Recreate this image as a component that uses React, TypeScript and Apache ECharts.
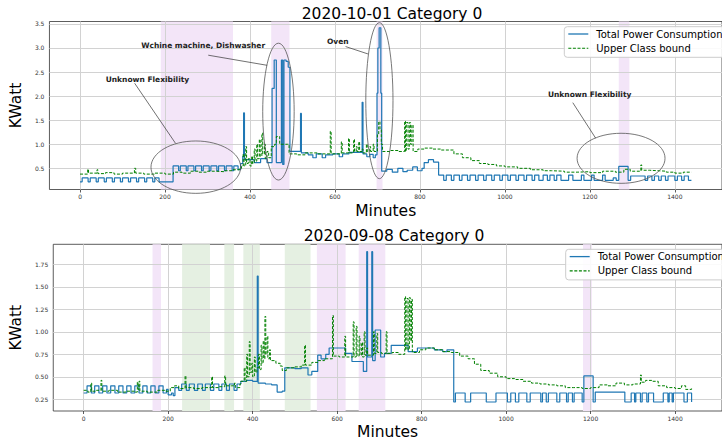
import React, { useEffect, useRef } from "react";
import * as echarts from "echarts";

// ---------- data ----------
const X_TICKS = [0, 200, 400, 600, 800, 1000, 1200, 1400];
const TOP_Y_TICKS = [0.5, 1.0, 1.5, 2.0, 2.5, 3.0, 3.5];
const BOT_Y_TICKS = [0.25, 0.5, 0.75, 1.0, 1.25, 1.5, 1.75];

const TITLES = ["2020-10-01 Category 0", "2020-09-08 Category 0"];
const SERIES_NAMES = ["Total Power Consumption", "Upper Class bound"];

// [start minute, kW] breakpoints (value held until next breakpoint)
const TOP_TOTAL: [number, number][] = [
  [0, 0.22], [5, 0.3], [19, 0.22], [24, 0.3], [38, 0.22], [43, 0.3], [57, 0.22], [62, 0.3],
  [76, 0.22], [81, 0.3], [95, 0.22], [100, 0.3], [114, 0.22], [119, 0.3], [133, 0.22], [138, 0.3],
  [152, 0.22], [157, 0.3], [171, 0.22], [176, 0.3], [186, 0.22], [219, 0.55], [232, 0.45], [236, 0.55],
  [250, 0.45], [254, 0.55], [268, 0.45], [272, 0.55], [286, 0.45], [290, 0.55], [304, 0.45], [308, 0.55],
  [322, 0.45], [326, 0.55], [340, 0.45], [344, 0.55], [358, 0.45], [362, 0.55], [372, 0.47], [378, 0.6],
  [383, 0.75], [385, 1.65], [387, 0.68], [410, 0.62], [425, 0.7], [440, 0.62], [452, 2.16], [457, 2.75],
  [462, 0.62], [474, 2.75], [477, 0.58], [480, 2.75], [485, 2.72], [490, 2.6], [494, 0.85], [519, 1.64],
  [521, 0.82], [537, 0.78], [548, 0.72], [556, 0.8], [570, 0.72], [578, 0.78], [595, 0.8], [610, 0.74],
  [618, 0.8], [633, 0.83], [664, 1.87], [666, 0.8], [675, 0.74], [682, 0.79], [690, 0.72], [695, 0.78],
  [699, 2.06], [701, 3.0], [704, 3.42], [708, 2.06], [710, 0.44], [722, 0.48], [735, 0.42], [748, 0.5],
  [760, 0.43], [770, 0.46], [783, 0.53], [794, 0.45], [805, 0.5], [810, 0.62], [820, 0.68], [832, 0.63],
  [844, 0.36], [856, 0.25], [862, 0.36], [874, 0.25], [880, 0.36], [893, 0.25], [899, 0.36], [912, 0.25],
  [918, 0.36], [931, 0.25], [937, 0.36], [950, 0.25], [956, 0.36], [969, 0.25], [975, 0.36], [988, 0.25],
  [994, 0.36], [1007, 0.25], [1013, 0.36], [1026, 0.25], [1032, 0.36], [1045, 0.25], [1051, 0.36],
  [1064, 0.25], [1070, 0.36], [1080, 0.25], [1090, 0.36], [1100, 0.25], [1106, 0.36], [1116, 0.25],
  [1122, 0.36], [1132, 0.25], [1150, 0.36], [1160, 0.25], [1180, 0.36], [1186, 0.25], [1204, 0.36],
  [1210, 0.25], [1230, 0.36], [1236, 0.25], [1255, 0.3], [1262, 0.25], [1268, 0.54], [1290, 0.25],
  [1296, 0.34], [1330, 0.25], [1336, 0.34], [1346, 0.25], [1352, 0.34], [1362, 0.25], [1368, 0.34],
  [1378, 0.25], [1384, 0.34], [1400, 0.25], [1406, 0.34], [1416, 0.25], [1422, 0.34], [1432, 0.25],
  [1439, 0.25],
];

const TOP_BOUND: [number, number][] = [
  [0, 0.38], [18, 0.48], [20, 0.4], [40, 0.47], [42, 0.39], [60, 0.41], [80, 0.38], [100, 0.4],
  [128, 0.5], [131, 0.4], [150, 0.38], [175, 0.4], [200, 0.38], [220, 0.42], [240, 0.4], [260, 0.44],
  [280, 0.42], [300, 0.44], [320, 0.43], [340, 0.45], [360, 0.47], [375, 0.5], [380, 0.55], [384, 0.8],
  [386, 0.55], [390, 0.95], [392, 0.6], [396, 0.7], [400, 0.55], [404, 0.75], [406, 0.6], [410, 0.9],
  [412, 0.65], [416, 1.0], [418, 0.7], [422, 1.1], [424, 0.75], [428, 1.23], [430, 0.8], [434, 1.0],
  [436, 0.7], [440, 0.85], [444, 0.72], [450, 0.95], [458, 1.0], [462, 1.16], [470, 1.0], [488, 1.0],
  [492, 0.8], [510, 0.78], [530, 0.82], [560, 0.8], [589, 1.27], [591, 0.8], [615, 1.05], [617, 0.82],
  [632, 1.12], [634, 0.82], [644, 1.1], [646, 0.85], [650, 0.95], [652, 0.85], [656, 1.05], [658, 0.85],
  [664, 0.9], [666, 0.82], [674, 1.0], [676, 0.85], [682, 0.95], [684, 0.85], [690, 1.0], [692, 0.85],
  [700, 1.2], [703, 1.47], [706, 1.3], [709, 1.0], [712, 0.85], [730, 0.87], [750, 0.85], [764, 1.48],
  [766, 0.85], [768, 1.45], [772, 0.9], [775, 1.45], [778, 1.0], [781, 1.4], [784, 0.85], [795, 0.9],
  [810, 0.92], [830, 0.9], [850, 0.88], [880, 0.8], [900, 0.72], [920, 0.66], [940, 0.6], [960, 0.58],
  [980, 0.55], [1000, 0.53], [1030, 0.5], [1060, 0.47], [1090, 0.45], [1110, 0.44], [1140, 0.42],
  [1170, 0.43], [1200, 0.41], [1230, 0.44], [1260, 0.42], [1280, 0.48], [1295, 0.44], [1320, 0.57],
  [1322, 0.46], [1340, 0.45], [1360, 0.44], [1380, 0.42], [1400, 0.4], [1420, 0.42], [1439, 0.42],
];

const BOT_TOTAL: [number, number][] = [
  [0, 0.32], [8, 0.4], [18, 0.32], [26, 0.4], [36, 0.32], [45, 0.4], [55, 0.32], [64, 0.4], [74, 0.32],
  [83, 0.4], [93, 0.32], [102, 0.4], [112, 0.32], [121, 0.4], [131, 0.32], [140, 0.4], [150, 0.32],
  [159, 0.4], [169, 0.32], [178, 0.4], [188, 0.32], [196, 0.36], [200, 0.3], [208, 0.32], [212, 0.29],
  [216, 0.38], [225, 0.35], [232, 0.42], [243, 0.35], [250, 0.42], [262, 0.35], [270, 0.42], [281, 0.35],
  [288, 0.42], [300, 0.35], [308, 0.42], [320, 0.35], [327, 0.42], [338, 0.35], [345, 0.42], [356, 0.35],
  [363, 0.42], [372, 0.45], [385, 0.46], [400, 0.45], [411, 1.62], [413, 0.43], [430, 0.42], [445, 0.41],
  [458, 0.33], [470, 0.34], [476, 0.6], [500, 0.59], [515, 0.6], [531, 0.52], [540, 0.56], [554, 0.74],
  [562, 0.7], [573, 0.75], [581, 0.82], [620, 0.76], [635, 0.67], [662, 0.56], [670, 1.89], [672, 0.72],
  [682, 1.89], [684, 0.68], [690, 1.02], [703, 0.72], [712, 0.76], [728, 0.85], [768, 0.78], [790, 0.82],
  [830, 0.8], [850, 0.78], [860, 0.8], [876, 0.22], [880, 0.32], [903, 0.22], [916, 0.32], [953, 0.22],
  [976, 0.32], [1003, 0.22], [1011, 0.32], [1022, 0.22], [1030, 0.32], [1049, 0.22], [1057, 0.32],
  [1082, 0.22], [1086, 0.32], [1095, 0.22], [1100, 0.32], [1120, 0.22], [1127, 0.32], [1143, 0.22],
  [1147, 0.32], [1157, 0.22], [1161, 0.32], [1180, 0.22], [1184, 0.51], [1206, 0.22], [1211, 0.33],
  [1281, 0.22], [1296, 0.32], [1304, 0.22], [1307, 0.32], [1318, 0.22], [1322, 0.32], [1333, 0.22],
  [1337, 0.32], [1349, 0.22], [1372, 0.32], [1383, 0.22], [1386, 0.32], [1393, 0.22], [1396, 0.32],
  [1421, 0.22], [1429, 0.32], [1439, 0.22],
];

const BOT_BOUND: [number, number][] = [
  [0, 0.35], [10, 0.33], [17, 0.43], [19, 0.34], [30, 0.35], [41, 0.46], [43, 0.34], [60, 0.35],
  [80, 0.33], [100, 0.34], [120, 0.33], [127, 0.44], [129, 0.36], [131, 0.45], [133, 0.34], [150, 0.33],
  [175, 0.35], [195, 0.34], [205, 0.38], [215, 0.4], [225, 0.37], [240, 0.51], [242, 0.38], [260, 0.37],
  [280, 0.38], [303, 0.5], [305, 0.38], [320, 0.39], [334, 0.51], [336, 0.4], [350, 0.4], [357, 0.43],
  [359, 0.38], [370, 0.42], [372, 0.45], [380, 0.6], [382, 0.45], [386, 0.75], [388, 0.5], [392, 0.89],
  [394, 0.55], [398, 0.65], [400, 0.5], [404, 0.72], [406, 0.55], [410, 0.6], [414, 0.75], [416, 0.58],
  [420, 0.85], [422, 0.65], [425, 0.9], [427, 0.7], [429, 1.17], [431, 0.75], [434, 0.95], [436, 0.7],
  [440, 0.8], [442, 0.68], [455, 0.65], [465, 0.62], [470, 0.57], [480, 0.6], [500, 0.61], [515, 0.63],
  [523, 0.85], [525, 0.63], [540, 0.66], [555, 0.68], [570, 0.7], [589, 1.18], [591, 0.73], [605, 0.72],
  [618, 0.95], [620, 0.72], [638, 1.11], [640, 0.72], [645, 1.06], [647, 0.73], [652, 0.95], [654, 0.74],
  [658, 0.88], [660, 0.72], [664, 1.0], [666, 0.74], [670, 0.82], [672, 0.74], [686, 1.0], [688, 0.76],
  [694, 0.98], [696, 0.77], [705, 0.76], [716, 1.0], [718, 0.76], [730, 0.77], [745, 0.75], [760, 1.39],
  [762, 0.8], [765, 1.37], [768, 0.8], [771, 1.38], [773, 0.9], [776, 1.36], [778, 0.77], [795, 0.8],
  [810, 0.82], [830, 0.8], [850, 0.78], [870, 0.77], [890, 0.73], [910, 0.7], [925, 0.64], [940, 0.57],
  [960, 0.54], [980, 0.5], [1000, 0.48], [1020, 0.47], [1040, 0.45], [1060, 0.43], [1080, 0.42],
  [1100, 0.41], [1120, 0.4], [1140, 0.38], [1160, 0.38], [1180, 0.37], [1200, 0.38], [1220, 0.41],
  [1240, 0.4], [1260, 0.43], [1280, 0.41], [1300, 0.42], [1318, 0.52], [1320, 0.44], [1330, 0.46],
  [1345, 0.45], [1360, 0.4], [1380, 0.38], [1400, 0.37], [1415, 0.4], [1425, 0.36], [1439, 0.37],
];

// shaded spans [from, to] in minutes
const TOP_VIOLET: [number, number][] = [[190, 360], [450, 493], [698, 712], [1268, 1293]];
const BOT_VIOLET: [number, number][] = [[163, 183], [552, 620], [651, 714], [1182, 1203]];
const BOT_GREEN: [number, number][] = [[233, 299], [333, 356], [378, 417], [476, 537]];

// ellipses [cx, cy, rx, ry] in data units (top chart)
const TOP_ELLIPSES: number[][] = [
  [272.5, 0.524, 105.5, 0.544],
  [467, 1.678, 37, 1.421],
  [704.6, 1.905, 32, 1.62],
  [1273.4, 0.708, 103.5, 0.52],
];

// annotations: text, [textX, textY, lineX1, lineY1, lineX2, lineY2]
const ANNOT_TEXTS = ["Wchine machine, Dishwasher", "Unknown Flexibility", "Oven", "Unknown Flexibility"];
const ANNOT_POS: number[][] = [
  [289.8, 3.043, 301.8, 2.85, 440.3, 2.64],
  [158.6, 2.336, 128.6, 2.267, 224.7, 1.02],
  [606.6, 3.13, 625, 3.03, 677.7, 2.876],
  [1199.5, 2.04, 1159.8, 1.864, 1213.8, 1.124],
];

// ---------- styles ----------
const BLUE = "#1f77b4";
const GREEN = "#008000";
const VIOLET_FILL = "#f3e5f8";
const GREEN_FILL = "#e5f0e2";
const GRID_LINE = "#d2d2d2";
const FONT = "DejaVu Sans";

function spans(list: [number, number][], color: string) {
  return list.map(([a, b]) => [{ xAxis: a, itemStyle: { color } }, { xAxis: b }]);
}

function gridLines(yTicks: number[]) {
  return [...X_TICKS.map((v) => ({ xAxis: v })), ...yTicks.map((v) => ({ yAxis: v }))];
}

function legendGraphic(left: number, top: number) {
  const rowH = 14.3;
  const first = top + 7.3;
  return {
    type: "group",
    z: 100,
    zlevel: 0,
    children: [
      {
        type: "rect",
        z: 100,
        shape: { x: left, y: top, width: 180, height: 30.6, r: 3 },
        style: { fill: "rgba(255,255,255,0.88)", stroke: "#cccccc", lineWidth: 1 },
      },
      {
        type: "line",
        z: 101,
        shape: { x1: left + 4, y1: first, x2: left + 24, y2: first },
        style: { stroke: BLUE, lineWidth: 1.3 },
      },
      {
        type: "line",
        z: 101,
        shape: { x1: left + 4, y1: first + rowH, x2: left + 24, y2: first + rowH },
        style: { stroke: GREEN, lineWidth: 1.1, lineDash: [3, 1.6] },
      },
      {
        type: "text",
        z: 101,
        style: {
          text: SERIES_NAMES[0],
          x: left + 32,
          y: first,
          verticalAlign: "middle",
          fontSize: 10,
          fontFamily: FONT,
          fill: "#000",
        },
      },
      {
        type: "text",
        z: 101,
        style: {
          text: SERIES_NAMES[1],
          x: left + 32,
          y: first + rowH,
          verticalAlign: "middle",
          fontSize: 10,
          fontFamily: FONT,
          fill: "#000",
        },
      },
    ],
  };
}

export default function App() {
  const ref = useRef<HTMLDivElement>(null);

  useEffect(() => {
    if (!ref.current) return;
    const chart = echarts.init(ref.current, null, { renderer: "svg" });

    const grids = [
      { left: 44.8, top: 21.5, width: 685.6, height: 168 },
      { left: 47.2, top: 244.3, width: 684, height: 166.7 },
    ];

    const xAxisBase = (gi: number) => ({
      gridIndex: gi,
      type: "value",
      min: -72,
      max: 1511,
      axisLine: { show: false },
      axisTick: { show: true, customValues: X_TICKS, length: 3, lineStyle: { color: "#333", width: 0.8 } },
      axisLabel: {
        customValues: X_TICKS,
        fontSize: 6,
        color: "#333",
        margin: 4,
        fontFamily: FONT,
        formatter: (v: number) => String(v),
      },
      splitLine: { show: false },
      name: "Minutes",
      nameLocation: "middle",
      nameGap: 13,
      nameTextStyle: { fontSize: 15.5, color: "#000", fontFamily: FONT },
    });

    const yAxisBase = (gi: number, min: number, max: number, ticks: number[], digits: number) => ({
      gridIndex: gi,
      type: "value",
      min,
      max,
      axisLine: { show: false },
      axisTick: { show: true, customValues: ticks, length: 3, lineStyle: { color: "#333", width: 0.8 } },
      axisLabel: {
        customValues: ticks,
        fontSize: 6,
        color: "#333",
        margin: 5,
        fontFamily: FONT,
        formatter: (v: number) => v.toFixed(digits),
      },
      splitLine: { show: false },
      name: "KWatt",
      nameLocation: "middle",
      nameGap: 4,
      nameRotate: 90,
      nameTextStyle: { fontSize: 15.5, color: "#000", fontFamily: FONT },
    });

    const markLineGrid = (yTicks: number[]) => ({
      silent: true,
      symbol: ["none", "none"],
      label: { show: false },
      lineStyle: { color: GRID_LINE, width: 1, type: "solid" },
      data: gridLines(yTicks),
    });

    const lineSeries = (name: string, data: [number, number][], gi: number, dashed: boolean) => ({
      name,
      type: "line",
      xAxisIndex: gi,
      yAxisIndex: gi,
      data,
      step: "end",
      symbol: "none",
      showSymbol: false,
      silent: true,
      z: dashed ? 4 : 3,
      lineStyle: dashed
        ? { color: GREEN, width: 1, type: [3, 1.6] }
        : { color: BLUE, width: 1.2 },
      itemStyle: { color: dashed ? GREEN : BLUE },
    });

    const option: any = {
      animation: false,
      textStyle: { fontFamily: FONT },
      title: [
        {
          text: TITLES[0],
          left: 387,
          top: 1,
          textAlign: "center",
          textStyle: { fontSize: 15.5, fontWeight: "normal", color: "#000", fontFamily: FONT },
        },
        {
          text: TITLES[1],
          left: 389,
          top: 223,
          textAlign: "center",
          textStyle: { fontSize: 15.5, fontWeight: "normal", color: "#000", fontFamily: FONT },
        },
      ],
      graphic: [legendGraphic(564.3, 26.7), legendGraphic(565.7, 249.3)],
      grid: grids.map((g) => ({ ...g, show: true, borderColor: "#333", borderWidth: 0.8, backgroundColor: "transparent" })),
      xAxis: [xAxisBase(0), xAxisBase(1)],
      yAxis: [
        yAxisBase(0, 0.06, 3.55, TOP_Y_TICKS, 1),
        yAxisBase(1, 0.12, 1.972, BOT_Y_TICKS, 2),
      ],
      series: [
        {
          type: "line",
          name: "_shade0",
          xAxisIndex: 0,
          yAxisIndex: 0,
          data: [],
          z: 0,
          silent: true,
          markArea: { silent: true, z: 0, data: spans(TOP_VIOLET, VIOLET_FILL) },
        },
        {
          type: "line",
          name: "_shade1",
          xAxisIndex: 1,
          yAxisIndex: 1,
          data: [],
          z: 0,
          silent: true,
          markArea: {
            silent: true,
            z: 0,
            data: [...spans(BOT_VIOLET, VIOLET_FILL), ...spans(BOT_GREEN, GREEN_FILL)],
          },
        },
        {
          type: "line",
          name: "_grid0",
          xAxisIndex: 0,
          yAxisIndex: 0,
          data: [],
          z: 1,
          silent: true,
          markLine: { ...markLineGrid(TOP_Y_TICKS), z: 1 },
        },
        {
          type: "line",
          name: "_grid1",
          xAxisIndex: 1,
          yAxisIndex: 1,
          data: [],
          z: 1,
          silent: true,
          markLine: { ...markLineGrid(BOT_Y_TICKS), z: 1 },
        },
        lineSeries(SERIES_NAMES[0], TOP_TOTAL, 0, false),
        lineSeries(SERIES_NAMES[1], TOP_BOUND, 0, true),
        lineSeries(SERIES_NAMES[0], BOT_TOTAL, 1, false),
        lineSeries(SERIES_NAMES[1], BOT_BOUND, 1, true),
        {
          type: "custom",
          name: "_ellipses",
          coordinateSystem: "cartesian2d",
          xAxisIndex: 0,
          yAxisIndex: 0,
          z: 6,
          silent: true,
          clip: false,
          data: TOP_ELLIPSES,
          renderItem: (params: any, api: any) => {
            const c = api.coord([api.value(0), api.value(1)]);
            const s = api.size([api.value(2), api.value(3)]);
            return {
              type: "ellipse",
              shape: { cx: c[0], cy: c[1], rx: s[0], ry: s[1] },
              style: { fill: "none", stroke: "#555", lineWidth: 0.8 },
            };
          },
        },
        {
          type: "custom",
          name: "_annots",
          coordinateSystem: "cartesian2d",
          xAxisIndex: 0,
          yAxisIndex: 0,
          z: 7,
          silent: true,
          clip: false,
          data: ANNOT_POS,
          renderItem: (params: any, api: any) => {
            const t = api.coord([api.value(0), api.value(1)]);
            const p1 = api.coord([api.value(2), api.value(3)]);
            const p2 = api.coord([api.value(4), api.value(5)]);
            return {
              type: "group",
              children: [
                {
                  type: "line",
                  shape: { x1: p1[0], y1: p1[1], x2: p2[0], y2: p2[1] },
                  style: { stroke: "#333", lineWidth: 0.7 },
                },
                {
                  type: "text",
                  style: {
                    text: ANNOT_TEXTS[params.dataIndex],
                    x: t[0],
                    y: t[1],
                    align: "center",
                    verticalAlign: "middle",
                    fontSize: 7.5,
                    fontWeight: "bold",
                    fontFamily: FONT,
                    fill: "#222",
                  },
                },
              ],
            };
          },
        },
      ],
    };

    chart.setOption(option);
    return () => chart.dispose();
  }, []);

  return (
    <div
      ref={ref}
      style={{ position: "fixed", left: 0, top: 0, width: 722, height: 443, background: "#fff" }}
    />
  );
}
